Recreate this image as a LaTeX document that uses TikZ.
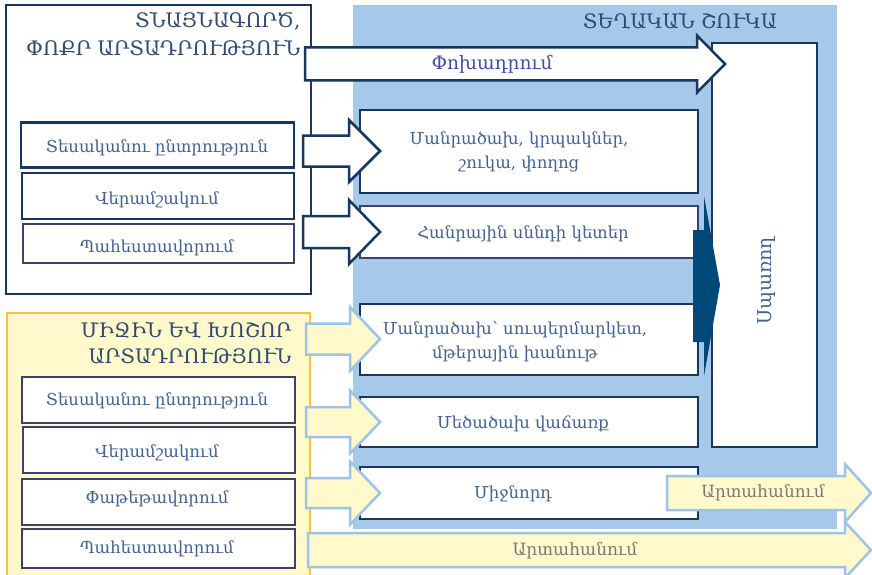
\documentclass[tikz,border=0pt]{standalone}
\usepackage{fontspec}
\setmainfont{DejaVu Serif}
\definecolor{navy}{HTML}{17375E}
\definecolor{plum}{HTML}{3C416F}
\definecolor{txt}{HTML}{44628F}
\definecolor{ttl}{HTML}{2E4A70}
\definecolor{skyfill}{HTML}{A6C9EA}
\definecolor{lemon}{HTML}{FFF9CC}
\definecolor{gold}{HTML}{F8C23C}
\definecolor{lblue}{HTML}{9DC3E6}
\definecolor{darkarrow}{HTML}{004878}
\definecolor{purpletxt}{HTML}{3F4FA0}
\definecolor{graytxt}{HTML}{7A7A7A}
\newcommand\barrow[7]{%
 \draw[#1] ({#2},{#4-#5}) -- ({#3-#7},{#4-#5}) -- ({#3-#7},{#4-#6}) -- ({#3},{#4})
 -- ({#3-#7},{#4+#6}) -- ({#3-#7},{#4+#5}) -- ({#2},{#4+#5}) -- cycle;}
\tikzset{
 navybox/.style={draw=navy, line width=2.5pt, fill=white},
 plumbox/.style={draw=plum, line width=1.8pt, fill=white},
 bodytext/.style={text=txt, font=\fontsize{16.5}{24}\selectfont, align=center},
 titletext/.style={text=ttl, font=\fontsize{20}{28}\selectfont, align=right, anchor=east},
 whitearrow/.style={draw=navy, line width=2.5pt, fill=white, line join=miter},
 yellowarrow/.style={draw=lblue, line width=2.5pt, fill=lemon, line join=miter},
}
\begin{document}
\begin{tikzpicture}[x=1pt,y=-1pt]
\useasboundingbox (0,0) rectangle (872,575);
% regions
\fill[skyfill] (353,5) rectangle (837,529) coordinate (skyse);
\draw[gold, line width=1.8pt, fill=lemon] (7,313) rectangle (310,590);
% top-left inner boxes
\node[navybox, minimum width=273pt, minimum height=45pt] (t1) at (157.5,145) {};
\node[navybox, minimum width=272pt, minimum height=46pt] (t2) at (158,196) {};
\node[plumbox, minimum width=271pt, minimum height=39pt] (t3) at (158.5,243.5) {};
\node[bodytext] at (157,148) {Տեսականու ընտրություն};
\node[bodytext] at (157,200) {Վերամշակում};
\node[bodytext] at (157,248) {Պահեստավորում};
% bottom-left inner boxes
\node[plumbox, minimum width=273pt, minimum height=46pt] (b1) at (158.5,400) {};
\node[plumbox, minimum width=272pt, minimum height=46pt] (b2) at (159,450) {};
\node[plumbox, minimum width=273pt, minimum height=46pt] (b3) at (158.5,502) {};
\node[plumbox, minimum width=273pt, minimum height=39pt] (b4) at (158.5,548.5) {};
\node[bodytext] at (157,401) {Տեսականու ընտրություն};
\node[bodytext] at (157,453) {Վերամշակում};
\node[bodytext] at (157,499) {Փաթեթավորում};
\node[bodytext] at (157,549) {Պահեստավորում};
% titles
\node[titletext] (ttop) at (304,34) {ՏՆԱՅՆԱԳՈՐԾ,\\ՓՈՔՐ ԱՐՏԱԴՐՈՒԹՅՈՒՆ};
\node[titletext, font=\fontsize{20}{26}\selectfont] (tbot) at (295,343) {ՄԻՋԻՆ ԵՎ ԽՈՇՈՐ\\ԱՐՏԱԴՐՈՒԹՅՈՒՆ};
\node[text=ttl, font=\fontsize{20}{24}\selectfont] (tsky) at (680,21) {ՏԵՂԱԿԱՆ ՇՈՒԿԱ};
% middle boxes
\node[navybox, minimum width=338pt, minimum height=83pt] (m1) at (529,151.5) {};
\node[plumbox, draw=plum, minimum width=338pt, minimum height=52pt] (m2) at (529,232) {};
\node[navybox, minimum width=338pt, minimum height=71pt] (m3) at (529,339.5) {};
\node[navybox, minimum width=338pt, minimum height=50pt] (m4) at (529,422) {};
\node[navybox, minimum width=338pt, minimum height=52pt] (m5) at (529,493) {};
\node[bodytext] at (519,152) {Մանրածախ, կրպակներ,\\շուկա, փողոց};
\node[bodytext] at (523,234) {Հանրային սննդի կետեր};
\node[bodytext] at (515,342) {Մանրածախ՝ սուպերմարկետ,\\մթերային խանութ};
\node[bodytext] at (523,424) {Մեծածախ վաճառք};
\node[bodytext] at (513,494) {Միջնորդ};
% consumer box
\node[navybox, minimum width=105pt, minimum height=404pt] (cons) at (764.5,245) {};
\node[bodytext, font=\fontsize{19}{24}\selectfont, rotate=90] at (767,281) {Սպառող};
% top-left box outline
\draw[navy, line width=2.5pt] (6,5) rectangle (311,294);
% arrows
\barrow{whitearrow}{305}{725}{64}{16.5}{28.5}{28}
\node[text=purpletxt, font=\fontsize{18.5}{22}\selectfont] at (492,64) {Փոխադրում};
\barrow{whitearrow}{303}{380}{151}{15.5}{31}{31}
\barrow{whitearrow}{303}{380}{232}{16}{32}{31}
\barrow{yellowarrow}{306}{380}{339}{15.5}{32}{30}
\barrow{yellowarrow}{306}{380}{422}{15}{31.5}{30}
\barrow{yellowarrow}{306}{380}{493}{15}{31.5}{30}
\barrow{yellowarrow}{667}{871}{493}{17}{29}{26}
\node[text=graytxt, font=\fontsize{16.8}{20}\selectfont] at (763,493) {Արտահանում};
\barrow{yellowarrow}{308}{871}{550}{17}{28}{26}
\node[text=graytxt, font=\fontsize{17}{20}\selectfont] at (575,551) {Արտահանում};
% dark arrow
\fill[darkarrow] (693,230) -- (704,230) -- (704,196) -- (720,285) -- (704,376) -- (704,342) -- (693,342) -- cycle;
\end{tikzpicture}
\end{document}
